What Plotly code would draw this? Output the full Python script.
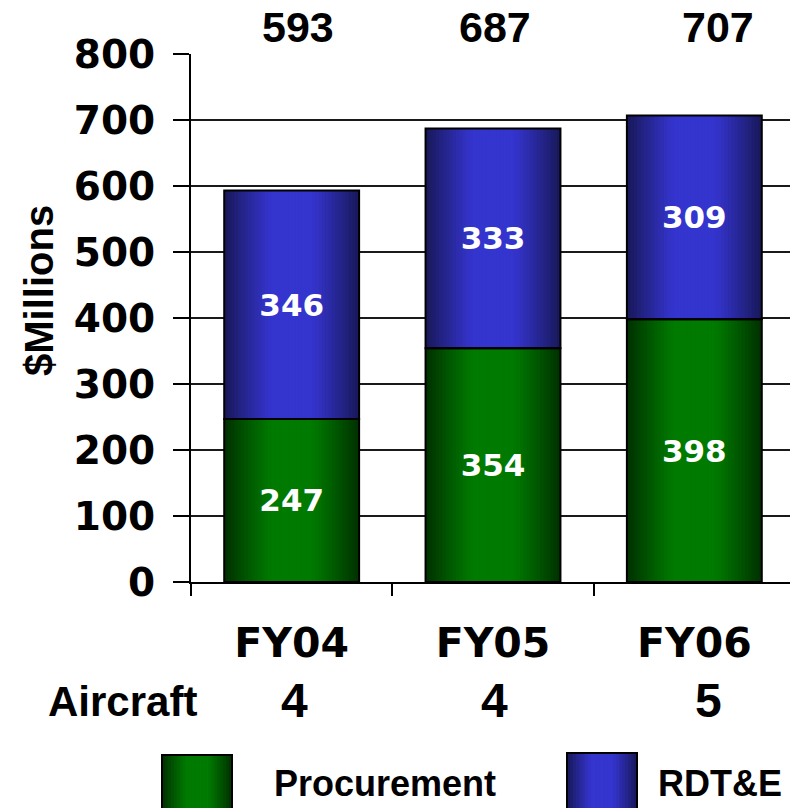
import plotly.graph_objects as go

# ---- data ----
categories = ["FY04", "FY05", "FY06"]
procurement = [247, 354, 398]
rdte = [346, 333, 309]
aircraft = [4, 4, 5]
series_names = ["Procurement", "RDT&E"]
y_ticks = [0, 100, 200, 300, 400, 500, 600, 700, 800]
totals = [p + r for p, r in zip(procurement, rdte)]

# ---- layout geometry (reference-page pixels) ----
OFF = 8  # page body margin
W_FIG, H_FIG = 798 - OFF, 808 - OFF
PLOT_L, PLOT_R, PLOT_T, PLOT_B = 191, 795, 54, 582
L = PLOT_L - OFF
T = PLOT_T - OFF
R = W_FIG - (PLOT_R - OFF)
B = H_FIG - (PLOT_B - OFF)
PW = PLOT_R - PLOT_L
PH = PLOT_B - PLOT_T


def px2x(px):
    return (px - PLOT_L) / PW


def px2y(py):
    return (PLOT_B - py) / PH


GREEN_DARK = (0, 48, 0)
GREEN_BRIGHT = (0, 122, 0)
BLUE_DARK = (24, 24, 88)
BLUE_BRIGHT = (52, 52, 206)


def mix(c1, c2, t):
    return "rgb(%d,%d,%d)" % tuple(round(a + (b - a) * t) for a, b in zip(c1, c2))


def profile(bright, dark, t):
    # t = 0 at centre, 1 at edge
    if t <= 0.3:
        return mix(bright, dark, 0)
    return mix(bright, dark, ((t - 0.3) / 0.7) ** 1.1)


BAR_W = 0.67
N = 20
fig = go.Figure()

for vals, bases, bright, dark in [
    (procurement, [0] * 3, GREEN_BRIGHT, GREEN_DARK),
    (rdte, procurement, BLUE_BRIGHT, BLUE_DARK),
]:
    for k in range(N):
        t_out = 1 - k / N
        fig.add_trace(go.Bar(
            x=categories, y=vals, base=bases, width=BAR_W * t_out,
            marker=dict(color=profile(bright, dark, t_out - 0.5 / N), line=dict(width=0)),
            hoverinfo="skip", showlegend=False,
        ))

for vals, bases, name in [(procurement, [0] * 3, series_names[0]), (rdte, procurement, series_names[1])]:
    fig.add_trace(go.Bar(
        x=categories, y=vals, base=bases, width=BAR_W, name=name,
        marker=dict(color="rgba(0,0,0,0)", line=dict(color="black", width=2)),
        text=[str(v) for v in vals], textposition="inside", insidetextanchor="middle",
        constraintext="none",
        textfont=dict(family="DejaVu Sans", size=31, color="white", weight="bold"),
        showlegend=False,
    ))

annotations = []
# totals above
tot_shift = [6, 2, 24]
for c, tv, xs in zip(categories, totals, tot_shift):
    annotations.append(dict(
        x=c, y=px2y(27), xref="x", yref="paper", text=str(tv), showarrow=False,
        xshift=xs, xanchor="center", yanchor="middle",
        font=dict(family="Liberation Sans", size=43, color="black", weight="bold"),
    ))
# aircraft row
annotations.append(dict(
    x=px2x(122), y=px2y(701), xref="paper", yref="paper", text="Aircraft", showarrow=False,
    xanchor="center", yanchor="middle",
    font=dict(family="Liberation Sans", size=42, color="black", weight="bold"),
))
ac_shift = [3, 1, 14]
for c, a, xs in zip(categories, aircraft, ac_shift):
    annotations.append(dict(
        x=c, y=px2y(700), xref="x", yref="paper", text=str(a), showarrow=False,
        xshift=xs, xanchor="center", yanchor="middle",
        font=dict(family="Liberation Sans", size=48, color="black", weight="bold"),
    ))
# y-axis title
annotations.append(dict(
    x=px2x(39), y=px2y(291), xref="paper", yref="paper", text="$Millions", showarrow=False,
    textangle=-90, xanchor="center", yanchor="middle",
    font=dict(family="Liberation Sans", size=40, color="black", weight="bold"),
))
# legend texts
annotations.append(dict(
    x=px2x(272), y=px2y(783), xref="paper", yref="paper", text=series_names[0], showarrow=False,
    xanchor="left", yanchor="middle",
    font=dict(family="Liberation Sans", size=36, color="black", weight="bold"),
))
annotations.append(dict(
    x=px2x(656), y=px2y(783), xref="paper", yref="paper", text=series_names[1], showarrow=False,
    xanchor="left", yanchor="middle",
    font=dict(family="Liberation Sans", size=36, color="black", weight="bold"),
))

shapes = []
# legend swatches with gradient
for (x0, x1, y0, y1), bright, dark in [
    ((162, 232, 755, 812), GREEN_BRIGHT, GREEN_DARK),
    ((567, 637, 753, 812), BLUE_BRIGHT, BLUE_DARK),
]:
    cx = (x0 + x1) / 2
    hw = (x1 - x0) / 2
    M = 12
    for k in range(M):
        t_out = 1 - k / M
        shapes.append(dict(
            type="rect", xref="paper", yref="paper", layer="above",
            x0=px2x(cx - hw * t_out), x1=px2x(cx + hw * t_out),
            y0=px2y(y1), y1=px2y(y0),
            fillcolor=profile(bright, dark, t_out - 0.5 / M), line=dict(width=0),
        ))
    shapes.append(dict(
        type="rect", xref="paper", yref="paper", layer="above",
        x0=px2x(x0), x1=px2x(x1), y0=px2y(y1), y1=px2y(y0),
        fillcolor="rgba(0,0,0,0)", line=dict(color="black", width=2),
    ))

fig.update_layout(
    width=W_FIG, height=H_FIG,
    margin=dict(l=L, r=R, t=T, b=B, autoexpand=False),
    paper_bgcolor="white", plot_bgcolor="white",
    barmode="overlay", showlegend=False,
    annotations=annotations, shapes=shapes,
    font=dict(family="Liberation Sans", color="black"),
)
fig.update_yaxes(
    range=[0, 800], tickvals=y_ticks, ticktext=[str(v) for v in y_ticks],
    showgrid=True, gridcolor="#1a1a1a", gridwidth=1.5,
    showline=True, linecolor="black", linewidth=2,
    ticks="outside", ticklen=16, tickwidth=1.5, tickcolor="black",
    ticklabelstandoff=10,
    tickfont=dict(family="DejaVu Sans", size=39, color="black", weight="bold"),
    zeroline=False,
)
fig.update_xaxes(
    type="category", range=[-0.5, 2.5],
    showline=True, linecolor="black", linewidth=2,
    ticks="outside", tickson="boundaries", ticklen=12, tickwidth=1.5, tickcolor="black",
    ticklabelstandoff=24,
    tickfont=dict(family="DejaVu Sans", size=41, color="black", weight="bold"),
    showgrid=False,
)

fig.write_html("out.html")
